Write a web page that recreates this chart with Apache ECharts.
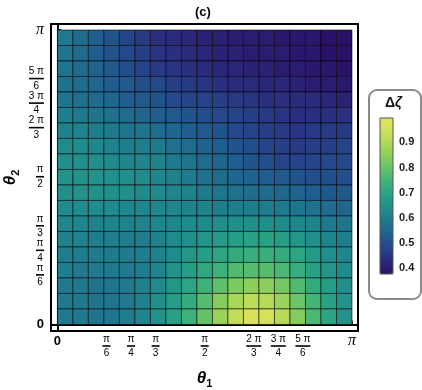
<!DOCTYPE html>
<html><head><meta charset="utf-8">
<script src="https://cdn.jsdelivr.net/npm/echarts@6/dist/echarts.min.js"></script>
<style>html,body{margin:0;padding:0;background:#fff}#c{width:422px;height:390px}</style>
</head><body><div id="c"></div>
<script>
const PI = Math.PI;
// axis ticks (fractions of pi)
const tickNum = [0, 1, 1, 1, 1, 2, 3, 5, 1];
const tickDen = [1, 6, 4, 3, 2, 3, 4, 6, 1];
const tickNumText = ['0', 'π', 'π', 'π', 'π', '2 π', '3 π', '5 π', 'π'];
const tickDenText = ['', '6', '4', '3', '2', '3', '4', '6', ''];
// colour bar
const barTicks = [0.4, 0.5, 0.6, 0.7, 0.8, 0.9];
const dzMin = 0.377, dzMax = 0.997;
const viridisStops = ['#2b1068','#2b2a7c','#26448a','#1f5f8e','#1f778e','#208d8c','#27a086','#3db07b','#5ec06b','#86cd5d','#abd757','#cde05a','#e4e35c'];
// Δζ per mesh cell, 19 x 19; rows listed from top (θ2 ≈ π) to bottom (θ2 ≈ 0), columns θ1 = 0 → π
const cellCount = 19;
const dzRows = [
  [0.59,0.56,0.53,0.51,0.48,0.46,0.44,0.43,0.42,0.41,0.41,0.40,0.40,0.40,0.39,0.39,0.39,0.38,0.38],
  [0.58,0.56,0.53,0.51,0.49,0.47,0.45,0.44,0.43,0.42,0.41,0.41,0.40,0.40,0.40,0.39,0.39,0.38,0.38],
  [0.58,0.56,0.54,0.52,0.50,0.48,0.46,0.45,0.44,0.43,0.42,0.42,0.41,0.41,0.40,0.40,0.39,0.39,0.38],
  [0.57,0.56,0.55,0.53,0.52,0.50,0.49,0.47,0.46,0.45,0.44,0.43,0.43,0.42,0.42,0.41,0.40,0.40,0.39],
  [0.58,0.57,0.56,0.55,0.53,0.52,0.51,0.49,0.48,0.48,0.47,0.46,0.45,0.44,0.44,0.43,0.43,0.42,0.41],
  [0.60,0.59,0.58,0.57,0.56,0.55,0.53,0.52,0.51,0.50,0.49,0.48,0.47,0.46,0.45,0.44,0.44,0.44,0.44],
  [0.61,0.61,0.60,0.59,0.58,0.58,0.56,0.55,0.53,0.52,0.51,0.49,0.48,0.47,0.46,0.45,0.46,0.46,0.46],
  [0.63,0.63,0.62,0.61,0.60,0.60,0.59,0.57,0.56,0.54,0.53,0.51,0.50,0.48,0.47,0.46,0.47,0.47,0.48],
  [0.64,0.64,0.64,0.63,0.62,0.62,0.61,0.59,0.58,0.56,0.55,0.53,0.51,0.50,0.48,0.48,0.48,0.49,0.49],
  [0.65,0.65,0.65,0.64,0.64,0.63,0.62,0.61,0.59,0.57,0.56,0.55,0.54,0.53,0.52,0.51,0.50,0.50,0.50],
  [0.64,0.65,0.65,0.64,0.64,0.63,0.63,0.62,0.61,0.59,0.58,0.57,0.56,0.56,0.55,0.54,0.53,0.52,0.52],
  [0.63,0.63,0.63,0.63,0.62,0.62,0.62,0.62,0.61,0.61,0.60,0.60,0.60,0.60,0.59,0.58,0.57,0.56,0.55],
  [0.62,0.62,0.61,0.61,0.61,0.61,0.62,0.62,0.63,0.63,0.64,0.64,0.64,0.64,0.63,0.62,0.61,0.59,0.58],
  [0.61,0.61,0.60,0.60,0.60,0.60,0.61,0.63,0.64,0.66,0.67,0.68,0.69,0.69,0.68,0.66,0.64,0.62,0.60],
  [0.60,0.60,0.59,0.59,0.59,0.60,0.61,0.63,0.66,0.68,0.70,0.72,0.73,0.73,0.72,0.70,0.67,0.64,0.62],
  [0.60,0.59,0.59,0.59,0.59,0.60,0.62,0.65,0.68,0.71,0.74,0.77,0.78,0.78,0.76,0.73,0.69,0.66,0.63],
  [0.59,0.59,0.58,0.58,0.59,0.61,0.63,0.66,0.70,0.74,0.79,0.83,0.85,0.85,0.82,0.77,0.72,0.68,0.64],
  [0.59,0.59,0.58,0.58,0.59,0.61,0.64,0.68,0.72,0.78,0.84,0.89,0.92,0.91,0.87,0.81,0.75,0.69,0.65],
  [0.59,0.59,0.58,0.58,0.60,0.62,0.65,0.69,0.74,0.80,0.87,0.93,0.97,0.96,0.91,0.84,0.76,0.70,0.65]
];

const tickVals = tickNum.map((n, k) => n / tickDen[k] * PI);
const cellW = PI / cellCount;
const cells = [];
dzRows.forEach((row, r) => {
  const j = cellCount - 1 - r;
  row.forEach((v, i) => cells.push([(i + 0.5) * cellW, (j + 0.5) * cellW, v]));
});

const SANS = 'Liberation Sans';
function fracLabel(v) {
  const k = tickVals.findIndex(t => Math.abs(t - v) < 1e-6);
  if (k < 0) return '';
  if (tickDenText[k] === '') return tickNumText[k] === 'π' ? '{pi|π}' : '{zero|0}';
  const wide = tickNumText[k].length > 1;
  return '{n|' + tickNumText[k] + '}\n{' + (wide ? 'bw' : 'bn') + '| }\n{d|' + tickDenText[k] + '}';
}
const fracRich = {
  n: { fontSize: 10, lineHeight: 10, align: 'center', fontFamily: SANS, color: '#000' },
  bn: { width: 8, height: 1.6, lineHeight: 4, backgroundColor: '#000', align: 'center', fontSize: 1 },
  bw: { width: 15, height: 1.6, lineHeight: 4, backgroundColor: '#000', align: 'center', fontSize: 1 },
  d: { fontSize: 10, lineHeight: 11, align: 'center', fontFamily: SANS, color: '#000' },
  pi: { fontSize: 16, fontFamily: 'Liberation Serif', fontStyle: 'italic', color: '#000', lineHeight: 14 },
  zero: { fontSize: 13, fontWeight: 'bold', fontFamily: SANS, color: '#000', lineHeight: 14 }
};
const nameRich = {
  t: { fontSize: 17, fontWeight: 'bold', fontStyle: 'italic', fontFamily: SANS, color: '#000', lineHeight: 22, verticalAlign: 'middle' },
  s: { fontSize: 11, fontWeight: 'bold', fontFamily: SANS, color: '#000', lineHeight: 22, verticalAlign: 'bottom' }
};

const chart = echarts.init(document.getElementById('c'), null, { renderer: 'canvas' });
chart.setOption({
  animation: false,
  backgroundColor: '#fff',
  title: [
    { text: '(c)', left: 195, top: 6, padding: 0, textStyle: { fontSize: 13, fontWeight: 'bold', fontFamily: SANS, color: '#000' } },
    { text: '{a|Δ}{b|ζ}', left: 385, top: 96, padding: 0, textStyle: { rich: {
      a: { fontSize: 14, fontWeight: 'bold', fontFamily: SANS, color: '#111' },
      b: { fontSize: 14, fontWeight: 'bold', fontStyle: 'italic', fontFamily: SANS, color: '#111' } } } }
  ],
  graphic: [
    { type: 'rect', left: 368, top: 89, z: -1, shape: { width: 52, height: 209, r: 8 }, style: { fill: '#fff', stroke: '#8a8a8a', lineWidth: 2 } }
  ],
  grid: [
    { left: 51, right: 64, top: 24, bottom: 59, show: true, borderColor: '#000', borderWidth: 2, backgroundColor: 'transparent',
      containLabel: false, outerBoundsMode: 'none' },
    { left: 380, top: 118, width: 13, height: 156, show: true, borderColor: '#555', borderWidth: 1, backgroundColor: 'transparent', z: 10,
      containLabel: false, outerBoundsMode: 'none' }
  ],
  xAxis: [
    { gridIndex: 0, type: 'value', min: -0.068, max: PI + 0.064,
      name: '{t|θ}{s|1}', nameLocation: 'middle', nameGap: 36, nameMoveOverlap: false, nameTextStyle: { rich: nameRich },
      axisLine: { show: true, lineStyle: { color: '#000', width: 2 } },
      axisTick: { show: true, inside: true, length: 4, customValues: tickVals, lineStyle: { color: '#000', width: 1.5 } },
      axisLabel: { customValues: tickVals, margin: 3, formatter: fracLabel, rich: fracRich, hideOverlap: false },
      splitLine: { show: false } },
    { gridIndex: 1, type: 'value', show: false, min: 0, max: 1 }
  ],
  yAxis: [
    { gridIndex: 0, type: 'value', min: -0.07, max: PI + 0.064,
      name: '{t|θ}{s|2}', nameLocation: 'middle', nameGap: 30, nameMoveOverlap: false, nameTextStyle: { rich: nameRich },
      axisLine: { show: true, lineStyle: { color: '#000', width: 2 } },
      axisTick: { show: true, inside: true, length: 4, customValues: tickVals, lineStyle: { color: '#000', width: 1.5 } },
      axisLabel: { customValues: tickVals, margin: 7, formatter: fracLabel, rich: fracRich, hideOverlap: false },
      splitLine: { show: false } },
    { gridIndex: 1, type: 'value', position: 'right', min: dzMin, max: dzMax,
      axisLine: { show: false },
      axisTick: { show: true, length: 3, customValues: barTicks, lineStyle: { color: '#999', width: 1 } },
      minorTick: { show: true, splitNumber: 5, length: 2, lineStyle: { color: '#bbb' } },
      axisLabel: { customValues: barTicks, margin: 6, fontSize: 11, fontWeight: 'bold', fontFamily: SANS, color: '#222',
        formatter: v => v.toFixed(1) },
      splitLine: { show: false } }
  ],
  visualMap: {
    type: 'continuous', min: dzMin, max: dzMax, seriesIndex: 0, dimension: 2,
    left: 380, top: 118, itemWidth: 13, itemHeight: 156, padding: 0,
    calculable: false, text: null, showLabel: false, hoverLink: false,
    inRange: { color: viridisStops }
  },
  series: [{
    type: 'custom', xAxisIndex: 0, yAxisIndex: 0, data: cells, clip: true, z: 2,
    encode: { x: 0, y: 1 },
    renderItem: (params, api) => {
      const cx = api.value(0), cy = api.value(1);
      const p0 = api.coord([cx - cellW / 2, cy + cellW / 2]);
      const p1 = api.coord([cx + cellW / 2, cy - cellW / 2]);
      return { type: 'rect', shape: { x: p0[0], y: p0[1], width: p1[0] - p0[0], height: p1[1] - p0[1] },
        style: { fill: api.visual('color'), stroke: 'rgba(0,0,0,0.55)', lineWidth: 1 } };
    }
  }]
});
</script></body></html>
